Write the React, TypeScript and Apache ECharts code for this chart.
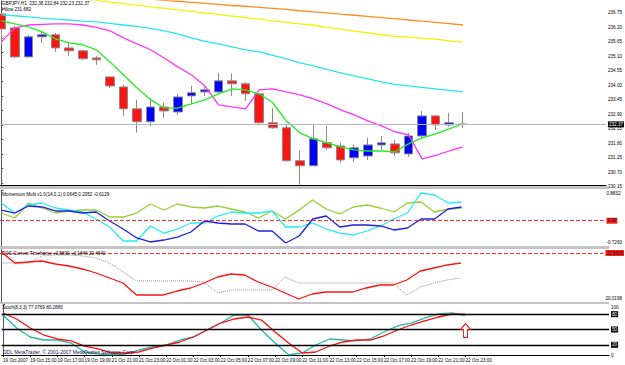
import React, { useEffect, useRef } from "react";
import * as echarts from "echarts";

// ---------- data ----------
const TIMES = [
  "19 Oct 13:00", "19 Oct 14:00", "19 Oct 15:00", "19 Oct 16:00", "19 Oct 17:00", "19 Oct 18:00",
  "19 Oct 19:00", "19 Oct 20:00", "21 Oct 21:00", "21 Oct 22:00", "21 Oct 23:00", "22 Oct 00:00",
  "22 Oct 01:00", "22 Oct 02:00", "22 Oct 03:00", "22 Oct 04:00", "22 Oct 05:00", "22 Oct 06:00",
  "22 Oct 07:00", "22 Oct 08:00", "22 Oct 09:00", "22 Oct 10:00", "22 Oct 11:00", "22 Oct 12:00",
  "22 Oct 13:00", "22 Oct 14:00", "22 Oct 15:00", "22 Oct 16:00", "22 Oct 17:00", "22 Oct 18:00",
  "22 Oct 19:00", "22 Oct 20:00", "22 Oct 21:00", "22 Oct 22:00", "22 Oct 23:00",
];
const TICK_INDEX = [0, 2, 4, 6, 8, 10, 12, 14, 16, 18, 20, 22, 24, 26, 28, 30, 32, 34];
const TICK_LABELS = [
  "19 Oct 2007", "19 Oct 15:00", "19 Oct 17:00", "19 Oct 19:00", "21 Oct 21:00", "21 Oct 23:00",
  "22 Oct 01:00", "22 Oct 03:00", "22 Oct 05:00", "22 Oct 07:00", "22 Oct 09:00", "22 Oct 11:00",
  "22 Oct 13:00", "22 Oct 15:00", "22 Oct 17:00", "22 Oct 19:00", "22 Oct 21:00", "22 Oct 23:00",
];

const OPEN = [236.56, 236.03, 234.93, 235.69, 235.77, 235.27, 235.16, 234.89, 234.17, 233.79, 232.96, 232.47, 233.03, 232.84, 233.45, 233.60, 233.60, 234.02, 233.91, 233.53, 232.43, 232.24, 230.99, 230.80, 231.67, 231.55, 231.10, 231.17, 231.59, 231.63, 231.25, 231.93, 232.69, 232.35, 232.38];
const CLOSE = [235.99, 234.93, 235.69, 235.77, 235.27, 235.16, 234.86, 234.82, 233.83, 232.96, 232.47, 233.03, 232.88, 233.41, 233.57, 233.68, 234.02, 233.91, 233.53, 232.43, 232.24, 230.99, 230.80, 231.82, 231.48, 231.02, 231.48, 231.59, 231.67, 231.29, 231.93, 232.69, 232.35, 232.43, 232.37];
const LOW = [235.39, 234.89, 234.89, 235.46, 235.12, 234.97, 234.82, 234.63, 233.75, 232.69, 232.05, 232.31, 232.62, 232.73, 233.15, 233.45, 233.57, 233.45, 233.26, 232.39, 232.20, 230.97, 230.08, 230.78, 231.40, 230.91, 230.95, 231.02, 231.40, 231.17, 231.14, 231.86, 232.16, 232.28, 232.23];
const HIGH = [236.60, 236.11, 235.77, 235.88, 235.84, 235.50, 235.20, 234.97, 234.21, 233.87, 233.30, 233.38, 233.19, 233.53, 233.83, 233.79, 234.32, 234.29, 233.98, 233.55, 232.99, 232.35, 231.37, 232.39, 232.31, 231.67, 231.59, 231.86, 231.93, 231.78, 232.05, 232.88, 232.73, 232.81, 232.84];

const MA_ORANGE = [237.55, 237.51, 237.47, 237.43, 237.40, 237.36, 237.32, 237.28, 237.25, 237.21, 237.16, 237.12, 237.07, 237.04, 237.00, 236.96, 236.92, 236.88, 236.85, 236.81, 236.77, 236.73, 236.68, 236.64, 236.60, 236.55, 236.51, 236.47, 236.42, 236.38, 236.33, 236.29, 236.24, 236.19, 236.14];
const MA_YELLOW = [237.48, 237.42, 237.36, 237.31, 237.25, 237.19, 237.13, 237.07, 237.01, 236.95, 236.89, 236.83, 236.77, 236.71, 236.66, 236.60, 236.54, 236.48, 236.42, 236.36, 236.30, 236.24, 236.18, 236.13, 236.05, 235.98, 235.91, 235.84, 235.77, 235.71, 235.68, 235.63, 235.60, 235.54, 235.49];
const MA_CYAN = [236.52, 236.49, 236.45, 236.40, 236.36, 236.33, 236.29, 236.26, 236.20, 236.14, 236.09, 236.01, 235.92, 235.80, 235.65, 235.52, 235.42, 235.31, 235.20, 235.12, 234.99, 234.85, 234.70, 234.59, 234.46, 234.32, 234.21, 234.10, 233.98, 233.89, 233.83, 233.77, 233.72, 233.66, 233.60];
const MA_MAGENTA = [235.50, 236.03, 236.14, 236.16, 236.18, 236.18, 236.14, 236.05, 235.92, 235.65, 235.42, 235.20, 234.89, 234.55, 234.25, 233.83, 233.11, 233.03, 232.96, 233.68, 233.72, 233.60, 233.49, 233.34, 233.15, 232.92, 232.73, 232.50, 232.31, 232.09, 231.97, 231.06, 231.19, 231.36, 231.52];
const MA_GREEN = [236.30, 236.18, 236.07, 235.88, 235.61, 235.46, 235.39, 235.20, 234.74, 234.25, 233.75, 233.30, 232.99, 232.99, 233.15, 233.30, 233.53, 233.72, 233.68, 233.53, 233.19, 232.50, 232.05, 231.82, 231.67, 231.52, 231.40, 231.36, 231.36, 231.33, 231.63, 231.86, 232.01, 232.20, 232.39];

const PRICE_TICKS = [230.15, 230.70, 231.25, 231.80, 232.35, 232.90, 233.45, 234.00, 234.55, 235.10, 235.65, 236.20, 236.75];

const MOM_OLIVE = [0.222, 0.079, 0.510, 0.366, 0.222, 0.280, 0.308, 0.308, 0.107, 0.107, 0.222, 0.481, 0.308, 0.481, 0.395, 0.366, 0.423, 0.337, 0.251, 0.079, 0.280, 0.050, 0.308, 0.596, 0.337, 0.194, 0.395, 0.452, 0.366, 0.251, 0.510, 0.538, 0.251, 0.337, 0.366];
const MOM_CYAN = [0.510, 0.222, 0.452, 0.510, 0.366, 0.308, 0.251, 0.050, -0.180, -0.582, -0.582, -0.151, -0.353, -0.238, -0.065, -0.065, 0.136, 0.251, 0.222, 0.222, 0.280, -0.180, -0.180, -0.065, -0.238, -0.353, -0.410, -0.295, -0.151, 0.050, 0.222, 0.797, 0.740, 0.510, 0.538];
const MOM_BLUE = [0.308, 0.222, 0.423, 0.395, 0.280, 0.280, 0.222, 0.251, -0.008, -0.238, -0.496, -0.611, -0.554, -0.468, -0.324, -0.008, -0.065, -0.094, -0.094, -0.295, -0.295, -0.640, -0.439, 0.050, 0.136, -0.180, -0.123, -0.123, -0.151, -0.266, -0.209, 0.050, 0.050, 0.337, 0.395];
const MOM_RANGE = [-0.726, 0.8832];
const MOM_LEVEL = 0;

const DOE_RED = [22.991, 22.337, 22.397, 22.456, 22.278, 22.159, 21.981, 21.743, 21.446, 21.149, 20.436, 20.436, 20.436, 20.673, 20.852, 21.149, 21.505, 21.684, 21.624, 21.208, 20.911, 20.555, 20.198, 20.495, 20.614, 20.614, 20.614, 20.852, 21.030, 21.030, 21.327, 21.862, 22.040, 22.219, 22.337];
const DOE_GRAY = [22.337, 22.337, 22.337, 22.753, 22.813, 22.813, 22.753, 22.634, 22.337, 21.803, 21.268, 21.268, 21.268, 21.268, 21.268, 21.208, 20.555, 20.733, 20.733, 20.733, 20.733, 21.505, 21.149, 21.149, 21.149, 21.149, 21.149, 21.149, 21.149, 21.149, 20.436, 20.911, 21.149, 21.327, 21.446];
const DOE_RANGE = [20.0198, 23.169];
const DOE_LEVEL = 22.9311;

const STOCH_MAIN = [78.4, 52.9, 35.3, 29.4, 29.4, 23.5, 5.9, 2.0, 0.5, 2.0, 9.8, 15.7, 19.6, 29.4, 35.3, 49.0, 62.7, 78.4, 78.4, 49.0, 23.5, 0.5, 3.9, 19.6, 31.4, 29.4, 27.5, 31.4, 45.1, 56.9, 62.7, 72.5, 80.4, 82.4, 77.08];
const STOCH_SIGNAL = [82.4, 70.6, 52.9, 39.2, 31.4, 27.5, 17.6, 11.8, 3.9, 3.9, 5.9, 13.7, 19.6, 25.5, 35.3, 49.0, 62.7, 70.6, 74.5, 68.6, 45.1, 23.5, 3.9, 5.9, 17.6, 25.5, 29.4, 29.4, 37.3, 49.0, 58.8, 66.7, 74.5, 80.4, 80.29];
const STOCH_LEVELS = [80, 50, 20];
const STOCH_TICKS = [0, 100];
const ARROW_AT = [34, 48];

const TITLE_MAIN = "GBPJPY,H1  232.38 232.84 232.23 232.37";
const TITLE_HILOW = "Hilow 231.682";
const TITLE_MOM = "Momentum Multi v1.0(14,0,1) 0.0645 0.2052 -0.6129";
const TITLE_DOE = "DOE Current Timeframe +0.8890 +0.1846 20.4640";
const TITLE_STOCH = "Stoch(8,3,3) 77.0769 80.2880";
const COPYRIGHT = "DDL MetaTrader, \u00a9 2001-2007 MetaQuotes Software Corp.";

// ---------- chart ----------
const FONT = "Liberation Sans";
const FS = 4.6;
const X_MIN = -0.1;
const X_MAX = 44.55;

const pts = (arr: number[]) => arr.map((v, i) => [i, v]);

export default function App() {
  const ref = useRef<HTMLDivElement>(null);
  useEffect(() => {
    if (!ref.current) return;
    const chart = echarts.init(ref.current, undefined, { renderer: "svg" });
    const candles = TIMES.map((_, i) => [i, OPEN[i], CLOSE[i], LOW[i], HIGH[i]]);
    const lastClose = CLOSE[CLOSE.length - 1];

    const grids = [
      { left: 0, right: 16, top: 1, height: 184 },
      { left: 0, right: 16, top: 190, height: 56 },
      { left: 0, right: 16, top: 249, height: 53 },
      { left: 0, right: 16, top: 304, height: 51 },
    ];
    const xAxes = grids.map((_, k) => ({
      type: "value",
      gridIndex: k,
      min: X_MIN,
      max: X_MAX,
      splitLine: { show: false },
      axisLine: { show: k === 0 || k === 3, onZero: false, lineStyle: { color: "#000", width: 1 } },
      axisTick: k === 3
        ? { show: true, customValues: TICK_INDEX, length: 2, lineStyle: { color: "#000" } }
        : { show: false },
      axisLabel: k === 3
        ? {
            show: true,
            customValues: TICK_INDEX,
            formatter: (v: number) => {
              const j = TICK_INDEX.indexOf(Math.round(v));
              return j >= 0 ? TICK_LABELS[j] : "";
            },
            align: "left",
            fontSize: FS,
            fontFamily: FONT,
            color: "#000",
            margin: 3,
          }
        : { show: false },
    }));

    const rich = {
      d: { fontSize: FS, fontFamily: FONT, color: "#000", padding: [8, 0, 0, 0] },
      t: { fontSize: FS, fontFamily: FONT, color: "#000", padding: [7, 0, 0, 0] },
      b: { fontSize: FS, fontFamily: FONT, color: "#000", padding: [0, 0, 8, 0] },
      n: { fontSize: FS, fontFamily: FONT, color: "#000" },
    };

    const yBase = (k: number, min: number, max: number, ticks: number[], fmt: (v: number) => string) => ({
      type: "value",
      gridIndex: k,
      position: "right",
      min,
      max,
      splitLine: { show: false },
      axisLine: { show: true, lineStyle: { color: "#555", width: 1 } },
      axisTick: { show: true, customValues: ticks, length: 2, inside: false, lineStyle: { color: "#555" } },
      axisLabel: {
        show: true,
        customValues: ticks,
        formatter: fmt,
        fontSize: FS,
        fontFamily: FONT,
        color: "#000",
        margin: 2,
        rich,
      },
    });

    const yAxes = [
      yBase(0, 230.07, 237.05, PRICE_TICKS, (v) => "{d|" + v.toFixed(2) + "}"),
      yBase(1, MOM_RANGE[0], MOM_RANGE[1], MOM_RANGE, (v) =>
        v > 0 ? "{t|" + v.toFixed(4) + "}" : "{b|" + v.toFixed(4) + "}"
      ),
      yBase(2, DOE_RANGE[0], DOE_RANGE[1], [DOE_RANGE[0]], (v) => "{b|" + v.toFixed(4) + "}"),
      yBase(3, 0, 100, STOCH_TICKS, (v) => (v > 50 ? "{t|" + v + "}" : "{n|" + v + "}")),
    ];

    const lineS = (name: string, data: number[], color: string, k: number, extra: any = {}) => ({
      name,
      type: "line",
      xAxisIndex: k,
      yAxisIndex: k,
      data: pts(data),
      showSymbol: false,
      symbol: "none",
      clip: true,
      lineStyle: { color, width: 1.3, ...(extra.lineStyle || {}) },
      ...extra.rest,
    });

    const boxLabel = (bg: string, fg: string, fmt: (p: any) => string) => ({
      show: true,
      position: "end",
      distance: 2,
      formatter: fmt,
      backgroundColor: bg,
      color: fg,
      fontSize: FS,
      fontFamily: FONT,
      padding: [1, 1, 0, 1],
    });

    const option: any = {
      animation: false,
      backgroundColor: "#fff",
      textStyle: { fontFamily: FONT },
      grid: grids,
      xAxis: xAxes,
      yAxis: yAxes,
      series: [
        lineS("MA orange", MA_ORANGE, "#ff8c1a", 0),
        lineS("MA yellow", MA_YELLOW, "#f2f200", 0),
        lineS("MA cyan", MA_CYAN, "#22e8f0", 0),
        lineS("MA magenta", MA_MAGENTA, "#ff33ff", 0),
        lineS("MA green", MA_GREEN, "#22ee22", 0),
        {
          name: "GBPJPY",
          type: "candlestick",
          xAxisIndex: 0,
          yAxisIndex: 0,
          data: candles,
          barWidth: 9,
          clip: true,
          itemStyle: {
            color: "#0000ff",
            color0: "#ff1414",
            borderColor: "#8a8a8a",
            borderColor0: "#8a8a8a",
            borderWidth: 1,
          },
          markLine: {
            silent: true,
            symbol: "none",
            data: [{ yAxis: lastClose }],
            lineStyle: { color: "#b8b8cc", type: "solid", width: 1 },
            label: boxLabel("#000", "#fff", (p: any) => Number(p.value).toFixed(2)),
          },
        },
        lineS("Momentum 1", MOM_OLIVE, "#9acd32", 1, {
          rest: {
            markLine: {
              silent: true,
              symbol: "none",
              data: [{ yAxis: MOM_LEVEL }],
              lineStyle: { color: "#ff3030", type: "dashed", width: 1 },
              label: boxLabel("#ff2020", "#000", (p: any) => Number(p.value).toFixed(2)),
            },
          },
        }),
        lineS("Momentum 2", MOM_CYAN, "#22eef0", 1),
        lineS("Momentum 3", MOM_BLUE, "#2020e0", 1),
        lineS("DOE signal", DOE_GRAY, "#8c8c8c", 2, { lineStyle: { type: "dotted", width: 1 } }),
        lineS("DOE", DOE_RED, "#ff1010", 2, {
          rest: {
            markLine: {
              silent: true,
              symbol: "none",
              data: [{ yAxis: DOE_LEVEL }],
              lineStyle: { color: "#ff3030", type: "dashed", width: 1 },
              label: boxLabel("#ff2020", "#000", (p: any) => Number(p.value).toFixed(4)),
            },
          },
        }),
        lineS("Stoch main", STOCH_MAIN, "#20b8b0", 3, {
          rest: {
            z: 3,
            markLine: {
              silent: true,
              symbol: "none",
              data: STOCH_LEVELS.map((v) => ({ yAxis: v })),
              lineStyle: { color: "#000", type: "solid", width: 1.3 },
              label: boxLabel("#000", "#fff", (p: any) => String(p.value)),
            },
          },
        }),
        lineS("Stoch signal", STOCH_SIGNAL, "#ff1010", 3, {
          rest: {
            z: 3,
            markPoint: {
              silent: true,
              symbol: "path://M5,0 L10,6 L7,6 L7,14 L3,14 L3,6 L0,6 Z",
              symbolSize: [10, 14],
              itemStyle: { color: "#fff", borderColor: "#ff0000", borderWidth: 1 },
              label: { show: false },
              data: [{ coord: ARROW_AT }],
            },
          },
        }),
      ],
      graphic: [
        { type: "rect", z: 50, shape: { x: 0, y: 186, width: 609, height: 3 }, style: { fill: "#c4c4c4" } },
        { type: "rect", z: 50, shape: { x: 0, y: 246, width: 609, height: 3 }, style: { fill: "#c4c4c4" } },
        { type: "rect", z: 50, shape: { x: 0, y: 302, width: 609, height: 2 }, style: { fill: "#c4c4c4" } },
        { type: "text", z: 60, left: 2, top: 1, style: { text: TITLE_MAIN, fontSize: FS, fontFamily: FONT, fill: "#000" } },
        { type: "text", z: 60, left: 2, top: 7, style: { text: TITLE_HILOW, fontSize: FS, fontFamily: FONT, fill: "#000" } },
        { type: "text", z: 60, left: 2, top: 192, style: { text: TITLE_MOM, fontSize: FS, fontFamily: FONT, fill: "#000" } },
        { type: "text", z: 60, left: 2, top: 251, style: { text: TITLE_DOE, fontSize: FS, fontFamily: FONT, fill: "#000" } },
        { type: "text", z: 60, left: 2, top: 305, style: { text: TITLE_STOCH, fontSize: FS, fontFamily: FONT, fill: "#000" } },
        { type: "text", z: 60, left: 3, top: 349, style: { text: COPYRIGHT, fontSize: FS + 0.4, fontFamily: FONT, fill: "#10104a" } },
      ],
    };
    chart.setOption(option);
    return () => chart.dispose();
  }, []);
  return (
    <div
      ref={ref}
      style={{ position: "fixed", left: 0, top: 0, width: 625, height: 365, background: "#fff" }}
    />
  );
}
